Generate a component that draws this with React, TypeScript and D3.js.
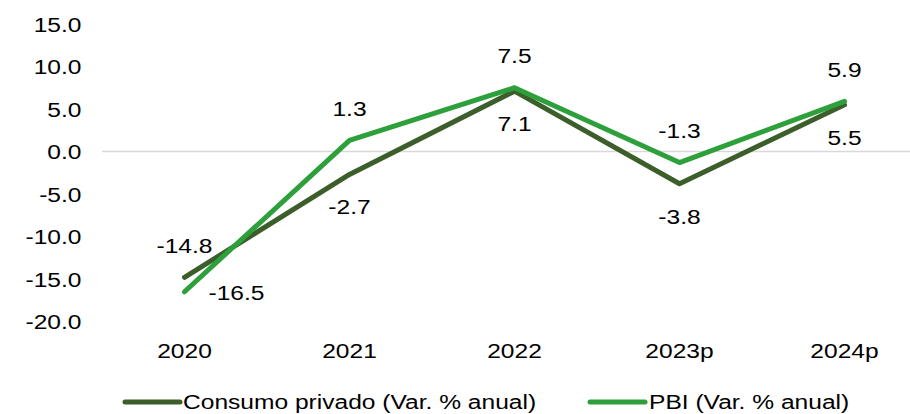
import React from "react";
import * as d3 from "d3";

const categories = ["2020", "2021", "2022", "2023p", "2024p"];
const consumo = [-14.8, -2.7, 7.1, -3.8, 5.5];
const pbi = [-16.5, 1.3, 7.5, -1.3, 5.9];
const yTicks = [15, 10, 5, 0, -5, -10, -15, -20];
const consumoLabelPos = ["above", "below", "below", "below", "below"];
const pbiLabelPos = ["right", "above", "above", "above", "above"];
const seriesNames = ["Consumo privado (Var. % anual)", "PBI (Var. % anual)"];

const W = 910;
const H = 414;
const FONT = "'Liberation Sans', Arial, sans-serif";
const FS = 21;
const SX = 1.17;
const C_CONS = "#3c5e2a";
const C_PBI = "#2ea03b";

function T({ x, y, anchor = "middle", children }: any) {
  return (
    <text
      transform={`translate(${x},${y}) scale(${SX},1)`}
      textAnchor={anchor}
      fontFamily={FONT}
      fontSize={FS}
      fill="#000"
    >
      {children}
    </text>
  );
}

export default function App() {
  const x = d3.scaleBand<string>().domain(categories).range([102, 927]).padding(0);
  const cx = (c: string) => (x(c) as number) + x.bandwidth() / 2;
  const y = d3.scaleLinear().domain([-20, 15]).range([321.5, 24]);

  const line = d3
    .line<number>()
    .x((_, i) => cx(categories[i]))
    .y((d) => y(d));

  const label = (v: number, i: number, pos: string, key: string) => {
    const px = cx(categories[i]);
    const py = y(v);
    if (pos === "above") return <T key={key} x={px} y={py - 24.5}>{v.toFixed(1)}</T>;
    if (pos === "below") return <T key={key} x={px} y={py + 40}>{v.toFixed(1)}</T>;
    return <T key={key} x={px + 24} y={py + 8} anchor="start">{v.toFixed(1)}</T>;
  };

  return (
    <svg
      width={W}
      height={H}
      style={{ position: "absolute", left: 0, top: 0, background: "#fff" }}
    >
      <line x1={102} x2={927} y1={y(0)} y2={y(0)} stroke="#d9d9d9" strokeWidth={1.5} />
      {yTicks.map((t) => (
        <T key={t} x={81.5} y={y(t) + 7.5} anchor="end">
          {t.toFixed(1)}
        </T>
      ))}
      {categories.map((c) => (
        <T key={c} x={cx(c)} y={358}>
          {c}
        </T>
      ))}
      <path d={line(consumo) || ""} fill="none" stroke={C_CONS} strokeWidth={5} strokeLinecap="round" strokeLinejoin="round" />
      <path d={line(pbi) || ""} fill="none" stroke={C_PBI} strokeWidth={5} strokeLinecap="round" strokeLinejoin="round" />
      {consumo.map((v, i) => label(v, i, consumoLabelPos[i], "c" + i))}
      {pbi.map((v, i) => label(v, i, pbiLabelPos[i], "p" + i))}
      <line x1={125} x2={180} y1={402} y2={402} stroke={C_CONS} strokeWidth={5} strokeLinecap="round" />
      <T x={183} y={409} anchor="start">{seriesNames[0]}</T>
      <line x1={590} x2={645} y1={402} y2={402} stroke={C_PBI} strokeWidth={5} strokeLinecap="round" />
      <T x={649} y={409} anchor="start">{seriesNames[1]}</T>
    </svg>
  );
}
